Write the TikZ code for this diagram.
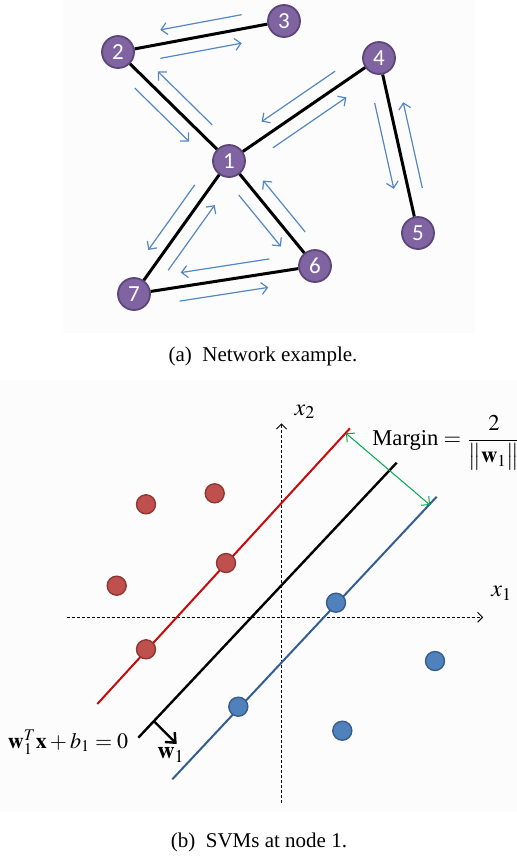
\documentclass[tikz,border=0pt]{standalone}
\usepackage{amsmath}
\usepackage{mathptmx}
\usepackage{fontspec}
\setmainfont{Liberation Serif}
\newfontfamily\vertexfont{Carlito}
\usetikzlibrary{arrows.meta, calc}

\definecolor{vpurple}{RGB}{128,100,162}
\definecolor{vborder}{RGB}{92,70,122}
\definecolor{flowblue}{RGB}{84,135,196}
\definecolor{svmred}{RGB}{200,10,10}
\definecolor{svmblue}{RGB}{52,94,145}
\definecolor{dotred}{RGB}{192,80,77}
\definecolor{dotredline}{RGB}{140,56,53}
\definecolor{dotblue}{RGB}{79,129,189}
\definecolor{dotblueline}{RGB}{56,93,138}
\definecolor{margingreen}{RGB}{0,170,80}

\begin{document}
\begin{tikzpicture}[x=0.5pt, y=-0.5pt,
		vertex/.style={circle, draw=vborder, fill=vpurple, line width=0.9pt,
			minimum size=16pt, inner sep=0pt, text=white,
			font=\vertexfont\fontsize{11.5}{12}\selectfont},
		link/.style={line width=1.5pt},
		flow/.style={draw=flowblue, line width=0.6pt, -{Straight Barb[length=3pt,width=6pt]}},
		reddot/.style={circle, draw=dotredline, fill=dotred, line width=0.7pt, minimum size=9.5pt, inner sep=0pt},
		bluedot/.style={circle, draw=dotblueline, fill=dotblue, line width=0.7pt, minimum size=9.5pt, inner sep=0pt},
		axis/.style={line width=0.5pt, dash pattern=on 1.5pt off 1pt, -{Straight Barb[length=2.5pt,width=5pt]}},
		caption/.style={font=\fontsize{10.5}{12}\selectfont},
		mlabel/.style={font=\fontsize{12}{14}\selectfont, inner sep=0pt}
		]
		\useasboundingbox (0,0) rectangle (517,859);
		\fill[black!1] (63,0) rectangle (475,333);
		\fill[black!1] (0,380) rectangle (517,812);
		
		% (a) network
		\node[vertex] (n1) at (229,161) {1};
		\node[vertex] (n2) at (118,52) {2};
		\node[vertex] (n3) at (284,21) {3};
		\node[vertex] (n4) at (379,58) {4};
		\node[vertex] (n5) at (418,233) {5};
		\node[vertex] (n6) at (315,266) {6};
		\node[vertex] (n7) at (134,294) {7};
		
		\foreach \a/\b in {n2/n3, n2/n1, n1/n4, n4/n5, n1/n6, n1/n7, n7/n6}
		\draw[link] (\a) -- (\b);
		
		\foreach \a/\b in {n2/n3, n3/n2, n2/n1, n1/n2, n1/n4, n4/n1, n4/n5, n5/n4,
			n1/n6, n6/n1, n1/n7, n7/n1, n7/n6, n6/n7}
		\draw[flow] ($(\a)!0.24!(\b)!7pt!-90:(\b)$) -- ($(\a)!0.73!(\b)!7pt!-90:(\b)$);
		
		\node[caption] (capa) at (263,356) {(a)\ \ Network example.};
		
		% (b) svm
		\coordinate (xl) at (66.7,617.3);
		\coordinate (xr) at (483.3,617.3);
		\coordinate (yb) at (281.5,802.7);
		\coordinate (yt) at (281.5,423.3);
		\draw[axis] (xl) -- (xr);
		\draw[axis] (yb) -- (yt);
		\node[mlabel] (x1) at (501.7,593) {$x_1$};
		\node[mlabel] (x2) at (305,411.7) {$x_2$};
		
		\coordinate (r0) at (97.3,704);
		\coordinate (r1) at (350,428.3);
		\coordinate (k0) at (138.3,737.7);
		\coordinate (k1) at (396.7,462.7);
		\coordinate (b0) at (172.3,779.3);
		\coordinate (b1) at (436.7,496.7);
		\draw[svmred, line width=1pt] (r0) -- (r1);
		\draw[black, line width=1.2pt] (k0) -- (k1);
		\draw[svmblue, line width=1pt] (b0) -- (b1);
		
		\node[reddot] (p1) at (146,504.3) {};
		\node[reddot] (p2) at (214.7,493.3) {};
		\node[reddot] (p3) at (226,563) {};
		\node[reddot] (p4) at (116.7,585.7) {};
		\node[reddot] (p5) at (146,649.3) {};
		\node[bluedot] (q1) at (336,602.7) {};
		\node[bluedot] (q2) at (435,661) {};
		\node[bluedot] (q3) at (238.3,706.7) {};
		\node[bluedot] (q4) at (342.3,730.7) {};
		
		\coordinate (m0) at (346,433.3);
		\coordinate (m1) at (430,505);
		\draw[margingreen, line width=0.5pt, {Straight Barb[length=3pt,width=6pt]}-{Straight Barb[length=3pt,width=6pt]}] (m0) -- (m1);
		\node[mlabel, anchor=west, font=\fontsize{11.3}{13}\selectfont] (margin) at (372,443)
		{$\text{Margin} = \dfrac{2}{\bigl\|\mathbf{w}_1\bigr\|}$};
		
		\coordinate (w0) at (154.3,721.5);
		\coordinate (w1) at (176.7,744);
		\draw[line width=1.2pt, -{Straight Barb[length=4pt,width=7pt]}] (w0) -- (w1);
		\node[mlabel] (wlab) at (171,755) {$\mathbf{w}_1$};
		\node[mlabel, anchor=east, font=\fontsize{11}{13}\selectfont] (hyper) at (128.5,742) {$\mathbf{w}_1^T\mathbf{x} + b_1 = 0$};
		
		\node[caption] (capb) at (259,842) {(b)\ \ SVMs at node 1.};
	\end{tikzpicture}
\end{document}
